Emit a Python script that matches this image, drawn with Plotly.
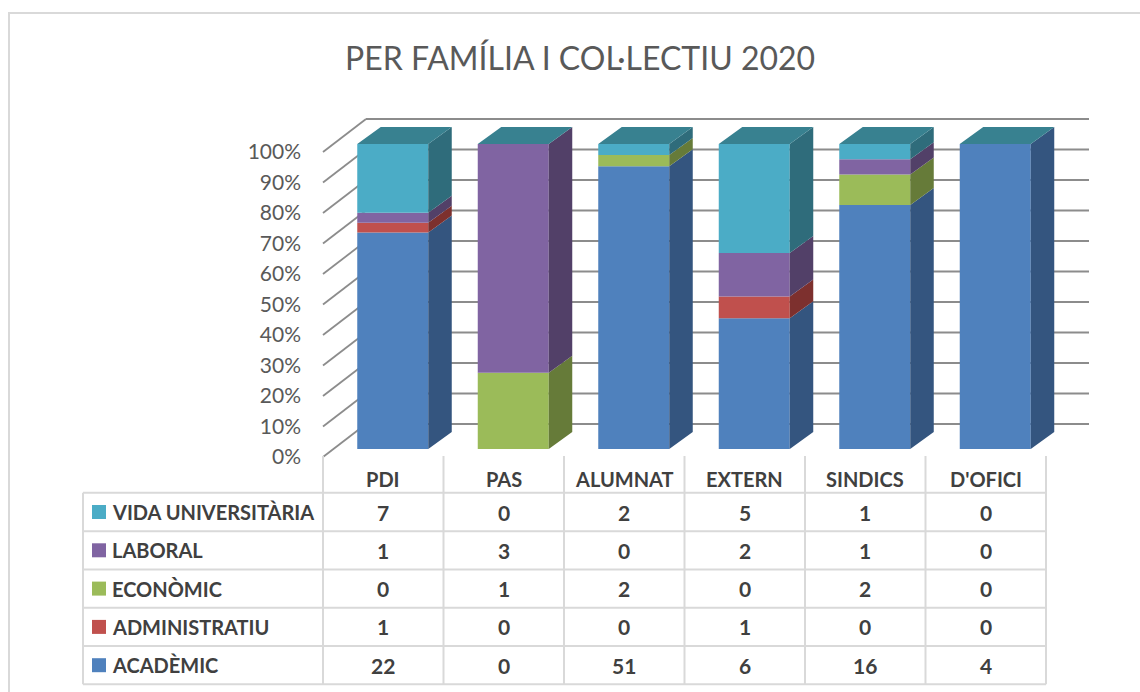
import plotly.graph_objects as go

# ---------------------------------------------------------------------------
# dades
# ---------------------------------------------------------------------------
categories = ["PDI", "PAS", "ALUMNAT", "EXTERN", "SINDICS", "D'OFICI"]

# ordre d'apilament (de baix a dalt)
series_names = ["ACADÈMIC", "ADMINISTRATIU", "ECONÒMIC", "LABORAL", "VIDA UNIVERSITÀRIA"]
academic = [22, 0, 51, 6, 16, 4]
administratiu = [1, 0, 0, 1, 0, 0]
economic = [0, 1, 2, 0, 2, 0]
laboral = [1, 3, 0, 2, 1, 0]
vida_universitaria = [7, 0, 2, 5, 1, 0]

tick_vals = [0, 10, 20, 30, 40, 50, 60, 70, 80, 90, 100]
tick_text = ["0%", "10%", "20%", "30%", "40%", "50%", "60%", "70%", "80%", "90%", "100%"]

title_text = "PER FAMÍLIA I COL·LECTIU 2020"

# ---------------------------------------------------------------------------
# estil
# ---------------------------------------------------------------------------
W, H = 1140, 692
FONT = "Lato, 'Open Sans', sans-serif"
TXT = "#404040"
GRID = "#8c8c8c"
TABLE_LINE = "#d9d9d9"
TBL_SIZE = 20

FRONT = ["#4f81bd", "#c0504d", "#9bbb59", "#8064a2", "#4bacc6"]
SIDE = ["#34557f", "#7d302e", "#667b39", "#524068", "#2f6c7b"]
TOP = "#388190"

# calibratge pla frontal (px)
X0, DXPX = 383.25, 120.5      # centre categoria 0, px per categoria
Y0, DYPX = 457.0, 3.05        # 0 %, px per punt percentual
R0, RH = 512.0, 38.3          # centre fila 0 de la taula, alcada fila


def ux(px):
    return px / DXPX


def uy(px):
    return px / DYPX


BAR_HALF = ux(35.5)
FRONT_OFF = (ux(9.5), uy(8))      # cara frontal barra respecte pla frontal
DEPTH = (ux(23.5), uy(17))        # profunditat de la barra
WALL = (ux(43), uy(33))           # paret del fons

x_range = [-X0 / DXPX, (W - X0) / DXPX]
y_range = [(Y0 - H) / DYPX, Y0 / DYPX]
r_range = [(H - R0) / RH, -R0 / RH]

values = [academic, administratiu, economic, laboral, vida_universitaria]
totals = [sum(v[i] for v in values) for i in range(len(categories))]
pcts = [[v[i] / totals[i] * 100 for i in range(len(categories))] for v in values]

fig = go.Figure()
shapes = []

# paret del fons i diagonals
left, right = -0.5, len(categories) - 0.5
for t in tick_vals:
    shapes.append(dict(type="line", xref="x", yref="y", layer="below",
                       x0=left + WALL[0], x1=right + WALL[0], y0=t + WALL[1], y1=t + WALL[1],
                       line=dict(color=GRID, width=1.8)))
    shapes.append(dict(type="line", xref="x", yref="y", layer="below",
                       x0=left, x1=left + WALL[0], y0=t, y1=t + WALL[1],
                       line=dict(color=GRID, width=1.8)))

# barres 3D
cum = [0.0] * len(categories)
for s, name in enumerate(series_names):
    xs, bases, ys = [], [], []
    sx, sy = [], []
    for i in range(len(categories)):
        p = pcts[s][i]
        b = cum[i] + FRONT_OFF[1]
        cum[i] += p
        if p <= 0:
            continue
        xc = i + FRONT_OFF[0]
        xs.append(xc)
        bases.append(b)
        ys.append(p)
        xr = xc + BAR_HALF
        sx += [xr, xr + DEPTH[0], xr + DEPTH[0], xr, xr, None]
        sy += [b, b + DEPTH[1], b + p + DEPTH[1], b + p, b, None]
    fig.add_trace(go.Bar(x=xs, y=ys, base=bases, width=2 * BAR_HALF, name=name,
                         marker=dict(color=FRONT[s], line=dict(width=0)),
                         showlegend=False, hoverinfo="skip"))
    fig.add_trace(go.Scatter(x=sx, y=sy, mode="lines", fill="toself", fillcolor=SIDE[s],
                             line=dict(width=0, color=SIDE[s]), showlegend=False,
                             hoverinfo="skip"))

tx, ty = [], []
for i in range(len(categories)):
    xl = i + FRONT_OFF[0] - BAR_HALF
    xr = i + FRONT_OFF[0] + BAR_HALF
    top = cum[i] + FRONT_OFF[1]
    tx += [xl, xl + DEPTH[0], xr + DEPTH[0], xr, xl, None]
    ty += [top, top + DEPTH[1], top + DEPTH[1], top, top, None]
fig.add_trace(go.Scatter(x=tx, y=ty, mode="lines", fill="toself", fillcolor=TOP,
                         line=dict(width=0, color=TOP), showlegend=False, hoverinfo="skip"))

# ---------------------------------------------------------------------------
# taula de dades
# ---------------------------------------------------------------------------
tbl_left = ux(83 - X0)
hdr_top = (456 - R0) / RH
hdr_row = (479 - R0) / RH
rows = list(range(len(series_names)))[::-1]   # fila 0 = VIDA UNIVERSITÀRIA
n_rows = len(series_names)

for k in range(n_rows + 1):
    shapes.append(dict(type="line", xref="x", yref="y2", x0=tbl_left, x1=right,
                       y0=k - 0.5, y1=k - 0.5, line=dict(color=TABLE_LINE, width=2)))
shapes.append(dict(type="line", xref="x", yref="y2", x0=tbl_left, x1=tbl_left,
                   y0=-0.5, y1=n_rows - 0.5, line=dict(color=TABLE_LINE, width=2)))
for k in range(len(categories) + 1):
    shapes.append(dict(type="line", xref="x", yref="y2", x0=k - 0.5, x1=k - 0.5,
                       y0=hdr_top, y1=n_rows - 0.5, line=dict(color=TABLE_LINE, width=2)))

# marc exterior
shapes.append(dict(type="rect", xref="paper", yref="paper", x0=9 / W, x1=1.05,
                   y0=-0.05, y1=1 - 13 / H, line=dict(color="#d9d9d9", width=2)))

annotations = []
for i, c in enumerate(categories):
    annotations.append(dict(x=i, y=hdr_row, xref="x", yref="y2", text=f"<b>{c}</b>",
                            showarrow=False, font=dict(size=TBL_SIZE, color=TXT, family=FONT)))

for r, s in enumerate(rows):
    annotations.append(dict(x=ux(110 - X0), y=r, xref="x", yref="y2", xanchor="left",
                            text=f"<b>{series_names[s]}</b>", showarrow=False,
                            font=dict(size=TBL_SIZE, color=TXT, family=FONT)))
    for i in range(len(categories)):
        annotations.append(dict(x=i, y=r, xref="x", yref="y2", text=f"<b>{values[s][i]}</b>",
                                showarrow=False,
                                font=dict(size=TBL_SIZE + 1, color=TXT, family=FONT)))

fig.add_trace(go.Scatter(x=[ux(99 - X0)] * n_rows, y=list(range(n_rows)), yaxis="y2",
                         mode="markers", showlegend=False, hoverinfo="skip",
                         marker=dict(symbol="square", size=14,
                                     color=[FRONT[s] for s in rows], line=dict(width=0))))

annotations.append(dict(x=580 / W, y=1 - 57 / H, xref="paper", yref="paper",
                        text=title_text, showarrow=False, yanchor="middle",
                        font=dict(size=32, color="#595959", family=FONT)))

fig.update_layout(
    width=W, height=H,
    margin=dict(l=0, r=0, t=0, b=0),
    paper_bgcolor="white", plot_bgcolor="white",
    barmode="overlay",
    showlegend=False,
    xaxis=dict(range=x_range, domain=[0, 1], visible=False, fixedrange=True),
    yaxis=dict(range=y_range, domain=[0, 1], anchor="free", position=(X0 - 0.5 * DXPX) / W,
               tickvals=tick_vals, ticktext=tick_text, showgrid=False, zeroline=False,
               showline=False, ticks="", ticklabelstandoff=22,
               tickfont=dict(size=21, color="#595959", family=FONT), fixedrange=True),
    yaxis2=dict(range=r_range, overlaying="y", anchor="x", visible=False, fixedrange=True),
    shapes=shapes,
    annotations=annotations,
)

fig.write_html("out.html", config={"displayModeBar": False},
               post_script="document.body.style.margin='0';")
